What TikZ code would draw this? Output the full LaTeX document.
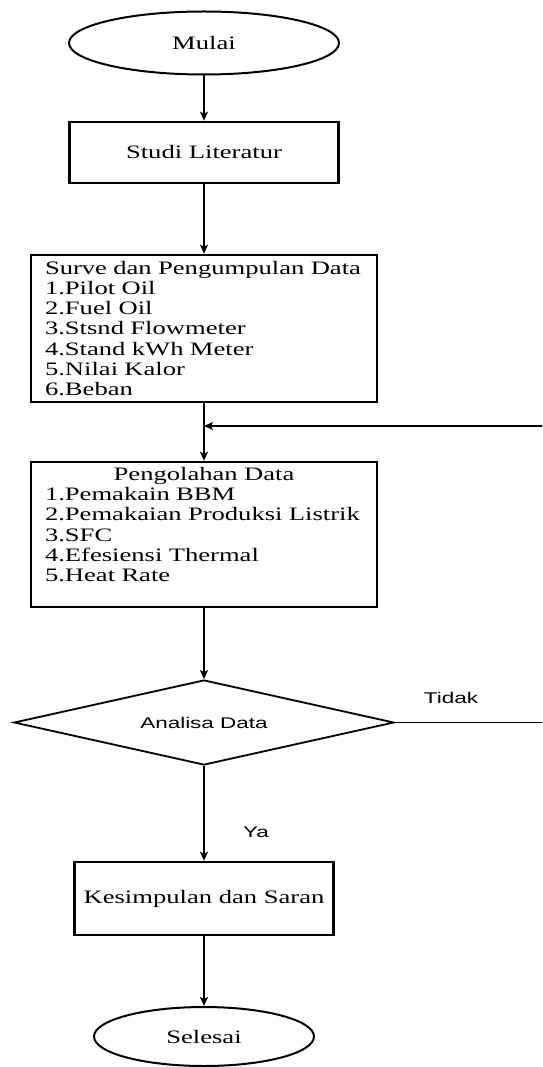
\documentclass[tikz,border=0pt]{standalone}
\usepackage{fontspec}
\setmainfont{Liberation Serif}
\newfontfamily\serifw[FakeStretch=1.4]{Liberation Serif}
\newfontfamily\sansw[FakeStretch=1.45]{Liberation Sans}
\usetikzlibrary{shapes.geometric,arrows.meta}
\begin{document}
\begin{tikzpicture}[x=1pt,y=-1pt,
  txt/.style={font=\serifw\fontsize{19}{20.3}\selectfont},
  term/.style={draw,ellipse,line width=2pt,inner sep=0pt,txt},
  boxnode/.style={draw,rectangle,line width=2.6pt,inner sep=0pt,txt},
  listbox/.style={boxnode,align=left,text width=318pt,inner xsep=14pt,minimum width=346pt},
  decision/.style={draw,diamond,aspect=4.4,line width=1.8pt,inner sep=0pt,font=\sansw\fontsize{15.5}{17}\selectfont},
  lbl/.style={font=\sansw\fontsize{15.5}{17}\selectfont,inner sep=0pt},
  conn/.style={line width=1.6pt,-{Stealth[length=9pt,width=8pt,inset=2pt]}},
  line/.style={line width=1.6pt}]
\useasboundingbox (0,0) rectangle (542,1067);
\clip (0,0) rectangle (542,1067);

\node[term,minimum width=270pt,minimum height=63pt] (start) at (204,43) {Mulai};
\node[boxnode,minimum width=269pt,minimum height=61pt] (studi) at (204,152.5) {Studi Literatur};
\node[listbox,minimum height=147pt] (surve) at (204,328.5)
  {Surve dan Pengumpulan Data\\1.Pilot Oil\\2.Fuel Oil\\3.Stsnd Flowmeter\\4.Stand kWh Meter\\5.Nilai Kalor\\6.Beban};
\node[listbox,minimum height=145pt] (olah) at (204,534.5)
  {\makebox[318pt][c]{Pengolahan Data}\\1.Pemakain BBM\\2.Pemakaian Produksi Listrik\\3.SFC\\4.Efesiensi Thermal\\5.Heat Rate\\\mbox{}};
\node[decision,minimum width=380pt,minimum height=85pt] (dia) at (204,722.5) {Analisa Data};
\node[boxnode,minimum width=259pt,minimum height=73pt] (kes) at (204,898.5) {Kesimpulan dan Saran};
\node[term,minimum width=220pt,minimum height=59pt] (end) at (204,1036.5) {Selesai};

\node[lbl] (tidak) at (451,698) {Tidak};
\node[lbl] (ya) at (256,832) {Ya};

\coordinate (join) at (204,426);
\coordinate (rt) at (548,722.5);

\draw[conn] (start) -- (studi);
\draw[conn] (studi) -- (surve);
\draw[conn] (surve) -- (olah);
\draw[conn] (olah) -- (dia);
\draw[conn] (dia) -- (kes);
\draw[conn] (kes) -- (end);
\draw[conn] (dia.east) -- (rt) |- (join);
\end{tikzpicture}
\end{document}
